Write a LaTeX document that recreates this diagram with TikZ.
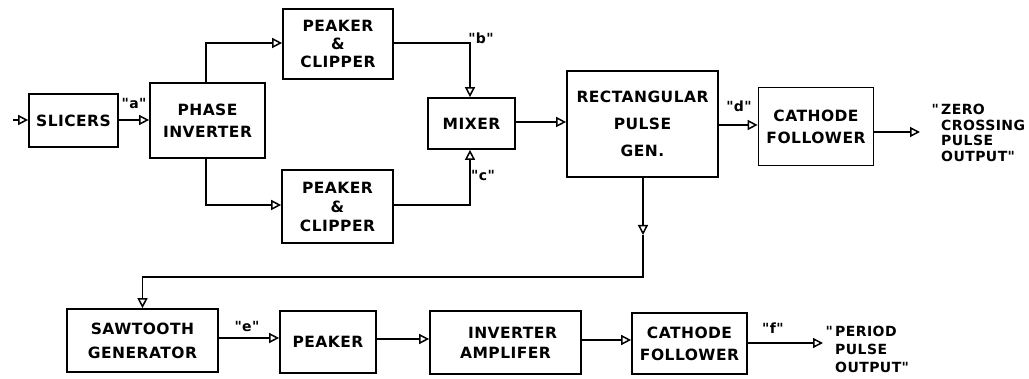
\documentclass[tikz,border=0pt]{standalone}
\usepackage{fontspec}
\newfontfamily\djf[LetterSpace=3]{DejaVu Sans}
\usetikzlibrary{arrows.meta}
\tikzset{
  blk/.style={draw, line width=1.7pt, align=center, inner sep=0pt,
    font=\djf\bfseries\fontsize{15.5}{18}\selectfont},
  lbl/.style={inner sep=0pt, font=\djf\bfseries\fontsize{14}{16}\selectfont},
  outtxt/.style={inner sep=0pt, align=flush left, anchor=north west},
  wire/.style={line width=1.7pt, -{Triangle[open, length=10pt, width=10pt, line width=1.5pt]}}
}
\begin{document}
\begin{tikzpicture}[x=1pt, y=-1pt]
\useasboundingbox (0,0) rectangle (1029,379);
% boxes
\node[blk, minimum width=89pt, minimum height=53pt] (sl) at (73.5,120.5) {SLICERS};
\node[blk, minimum width=115pt, minimum height=75pt] (ph) at (207.5,120.5) {PHASE\\[4pt]INVERTER};
\node[blk, minimum width=110pt, minimum height=70pt] (pc1) at (338,44) {PEAKER\\\&\\CLIPPER};
\node[blk, minimum width=111pt, minimum height=73pt] (pc2) at (337.5,206.5) {PEAKER\\[1pt]\&\\[1pt]CLIPPER};
\node[blk, minimum width=87pt, minimum height=51pt] (mx) at (471.5,123.5) {MIXER};
\node[blk, minimum width=151pt, minimum height=106pt] (rp) at (642.5,124) {RECTANGULAR\\[9pt]PULSE\\[9pt]GEN.};
\node[blk, minimum width=115pt, minimum height=78pt] (cf1) at (816,126.5) {CATHODE\\[4pt]FOLLOWER};
\node[blk, minimum width=151pt, minimum height=63pt] (sw) at (142.5,340.5) {SAWTOOTH\\[6pt]GENERATOR};
\node[blk, minimum width=96pt, minimum height=62pt] (pk) at (328,342) {PEAKER};
\node[blk, minimum width=151pt, minimum height=63pt] (ia) at (505.5,342.5) {\hspace*{14pt}INVERTER\\[2pt]AMPLIFER};
\node[blk, minimum width=115pt, minimum height=61pt] (cf2) at (689.5,343.5) {CATHODE\\[4pt]FOLLOWER};
% coordinates
\coordinate (in) at (13,120);
\coordinate (o1) at (920,132);
\coordinate (o2) at (823,343);
\coordinate (m1) at (643,235);
\coordinate (t1) at (643,277);
% labels
\node[lbl] (la) at (134,103) {"a"};
\node[lbl] (lb) at (481,38) {"b"};
\node[lbl] (lc) at (483,175) {"c"};
\node[lbl] (ld) at (739,106) {"d"};
\node[lbl] (le) at (247,326) {"e"};
\node[lbl] (lf) at (773,328) {"f"};
\node[lbl, outtxt, font=\djf\bfseries\fontsize{14}{15.5}\selectfont] (zc) at (941,104) {\llap{"\,}ZERO\\CROSSING\\PULSE\\OUTPUT"};
\node[lbl, outtxt, font=\djf\bfseries\fontsize{14}{18}\selectfont] (pp) at (835,326) {\llap{"\,}PERIOD\\PULSE\\OUTPUT"};
% connectors
\draw[wire] (in) -- (sl.west |- in);
\draw[wire] (sl.east |- in) -- (ph.west |- in);
\draw[wire] (206,83) |- (pc1.west |- 0,43);
\draw[wire] (206,158) |- (pc2.west |- 0,205);
\draw[wire] (pc1.east |- 0,43) -| (mx.north -| 470,0);
\draw[wire] (pc2.east |- 0,205) -| (mx.south -| 470,0);
\draw[wire] (mx.east |- 0,122) -- (rp.west |- 0,122);
\draw[wire] (rp.east |- 0,125) -- (cf1.west |- 0,125);
\draw[wire] (cf1.east |- o1) -- (o1);
\draw[wire] (rp.south -| m1) -- (m1);
\draw[wire] (m1) -- (t1) -| (sw.north);
\draw[wire] (sw.east |- 0,338) -- (pk.west |- 0,338);
\draw[wire] (pk.east |- 0,339) -- (ia.west |- 0,339);
\draw[wire] (ia.east |- 0,340) -- (cf2.west |- 0,340);
\draw[wire] (cf2.east |- o2) -- (o2);
\end{tikzpicture}
\end{document}
